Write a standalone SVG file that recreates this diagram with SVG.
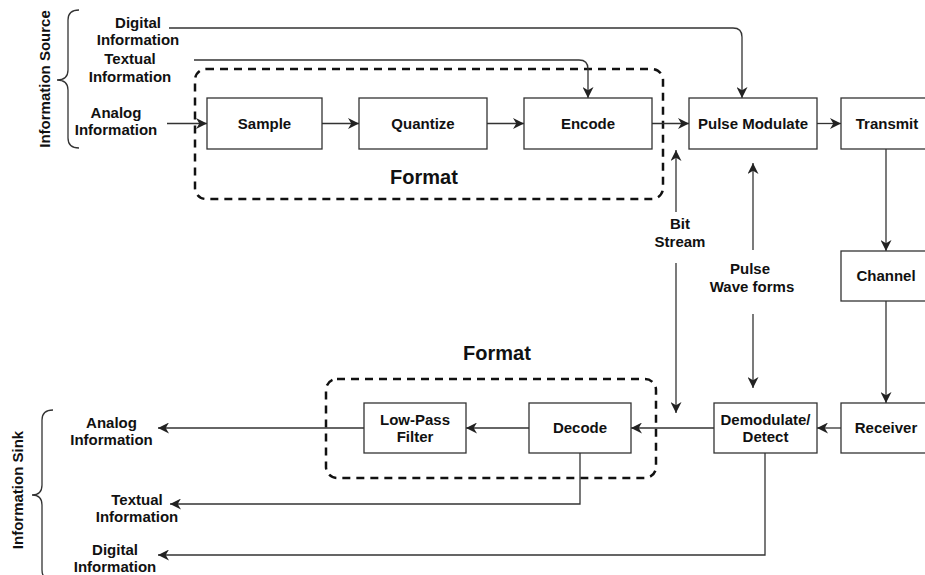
<svg xmlns="http://www.w3.org/2000/svg" width="925" height="575" viewBox="0 0 925 575">
<defs>
<marker id="arr" markerUnits="userSpaceOnUse" markerWidth="11" markerHeight="11" viewBox="0 0 10 10" refX="10" refY="5" orient="auto">
<path d="M0,0 L10,5 L0,10 L3,5 Z" fill="#222"/>
</marker>
<style>
.box{fill:#fff;stroke:#333;stroke-width:1.3}
.t{font-family:"Liberation Sans",Arial,sans-serif;font-weight:bold;font-size:15px;fill:#111;text-anchor:middle}
.big{font-size:20px}
.ln{fill:none;stroke:#333;stroke-width:1.3}
.grp{fill:none;stroke:#111;stroke-width:2.5;stroke-dasharray:8 6}
.brace{fill:none;stroke:#333;stroke-width:1.3}
</style>
</defs>
<rect width="925" height="575" fill="#fff"/>

<g id="format-top">
<rect class="grp" x="195" y="69" width="468" height="130" rx="11"/>
<text class="t big" x="424" y="184">Format</text>
</g>
<g id="format-bottom">
<rect class="grp" x="326" y="379" width="330" height="99" rx="11"/>
<text class="t big" x="497" y="360">Format</text>
</g>

<g id="connectors">
<path class="ln" d="M169,28 H733 Q742,28 742,37 V98" marker-end="url(#arr)"/>
<path class="ln" d="M194,60 H579 Q588,60 588,69 V98" marker-end="url(#arr)"/>
<path class="ln" d="M167,123.5 H207" marker-end="url(#arr)"/>
<path class="ln" d="M322,123.5 H359" marker-end="url(#arr)"/>
<path class="ln" d="M487,123.5 H524" marker-end="url(#arr)"/>
<path class="ln" d="M652,123.5 H689" marker-end="url(#arr)"/>
<path class="ln" d="M817,123.5 H841" marker-end="url(#arr)"/>
<path class="ln" d="M886,149 V251" marker-end="url(#arr)"/>
<path class="ln" d="M886,301 V403" marker-end="url(#arr)"/>
<path class="ln" d="M841,428 H817" marker-end="url(#arr)"/>
<path class="ln" d="M714,428 H631" marker-end="url(#arr)"/>
<path class="ln" d="M529,428 H466" marker-end="url(#arr)"/>
<path class="ln" d="M364,428 H158" marker-end="url(#arr)"/>
<path class="ln" d="M580,453 V504 H170" marker-end="url(#arr)"/>
<path class="ln" d="M765,453 V555 H158" marker-end="url(#arr)"/>
<path class="ln" d="M676,212 V150" marker-end="url(#arr)"/>
<path class="ln" d="M676,263 V413" marker-end="url(#arr)"/>
<path class="ln" d="M753,250 V163" marker-end="url(#arr)"/>
<path class="ln" d="M753,314 V388" marker-end="url(#arr)"/>
<text class="t" x="680" y="229">Bit</text>
<text class="t" x="680" y="247">Stream</text>
<text class="t" x="750" y="274">Pulse</text>
<text class="t" x="752" y="292">Wave forms</text>
</g>

<g id="information-source">
<path class="brace" d="M79,10 Q68,10 68,20 V70 Q68,80 57,80 Q68,80 68,90 V138 Q68,148 79,148"/>
<text class="t" transform="translate(50,79) rotate(-90)" x="0" y="0">Information Source</text>
</g>
<g id="src-digital">
<text class="t" x="138" y="28">Digital</text>
<text class="t" x="138" y="45">Information</text>
</g>
<g id="src-textual">
<text class="t" x="130" y="64">Textual</text>
<text class="t" x="130" y="82">Information</text>
</g>
<g id="src-analog">
<text class="t" x="116" y="118">Analog</text>
<text class="t" x="116" y="135">Information</text>
</g>

<g id="sample"><rect class="box" x="207" y="98" width="115" height="51"/><text class="t" x="264.5" y="129">Sample</text></g>
<g id="quantize"><rect class="box" x="359" y="98" width="128" height="51"/><text class="t" x="423" y="129">Quantize</text></g>
<g id="encode"><rect class="box" x="524" y="98" width="128" height="51"/><text class="t" x="588" y="129">Encode</text></g>
<g id="pulse-modulate"><rect class="box" x="689" y="98" width="128" height="51"/><text class="t" x="753" y="129">Pulse Modulate</text></g>
<g id="transmit"><rect class="box" x="841" y="98" width="92" height="51"/><text class="t" x="887" y="129">Transmit</text></g>
<g id="channel"><rect class="box" x="841" y="251" width="92" height="50"/><text class="t" x="886" y="281">Channel</text></g>
<g id="receiver"><rect class="box" x="841" y="403" width="92" height="50"/><text class="t" x="886" y="433">Receiver</text></g>
<g id="demodulate"><rect class="box" x="714" y="403" width="103" height="50"/><text class="t" x="765.5" y="425">Demodulate/</text><text class="t" x="765.5" y="442">Detect</text></g>
<g id="decode"><rect class="box" x="529" y="403" width="102" height="50"/><text class="t" x="580" y="433">Decode</text></g>
<g id="low-pass-filter"><rect class="box" x="364" y="403" width="102" height="50"/><text class="t" x="415" y="425">Low-Pass</text><text class="t" x="415" y="442">Filter</text></g>

<g id="information-sink">
<path class="brace" d="M53,410 Q42,410 42,420 V485 Q42,495 32,495 Q42,495 42,505 V570 Q42,580 53,580"/>
<text class="t" transform="translate(23,490) rotate(-90)" x="0" y="0">Information Sink</text>
</g>
<g id="sink-analog">
<text class="t" x="111.5" y="428">Analog</text>
<text class="t" x="111.5" y="445">Information</text>
</g>
<g id="sink-textual">
<text class="t" x="137" y="505">Textual</text>
<text class="t" x="137" y="522">Information</text>
</g>
<g id="sink-digital">
<text class="t" x="115" y="555">Digital</text>
<text class="t" x="115" y="572">Information</text>
</g>
</svg>
